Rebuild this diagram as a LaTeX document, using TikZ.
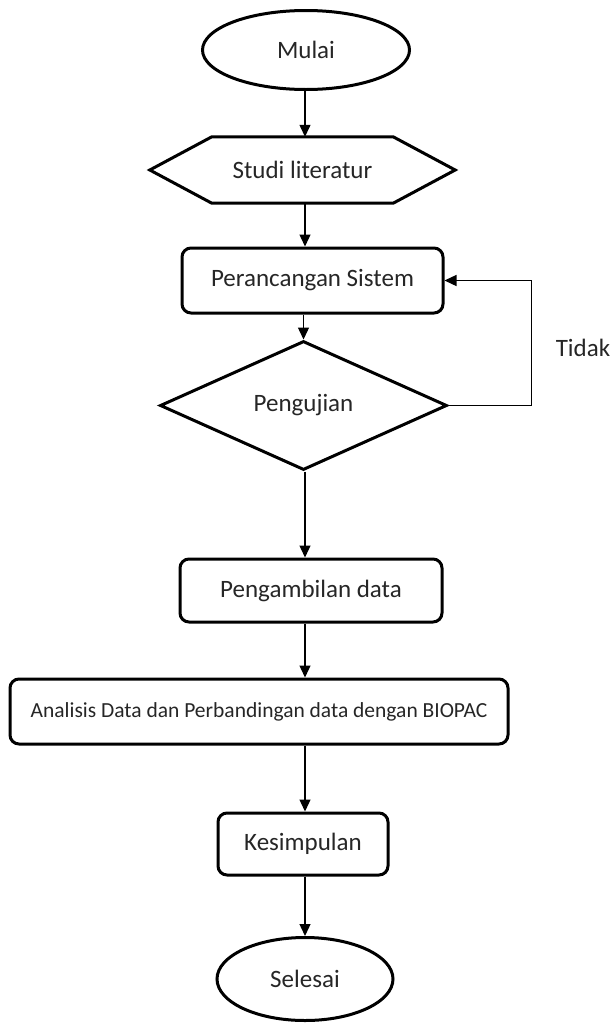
\documentclass[tikz,border=0pt]{standalone}
\usepackage{fontspec}
\setmainfont{Carlito}
\usetikzlibrary{shapes.geometric,arrows.meta}
\begin{document}
\begin{tikzpicture}[x=1pt,y=-1pt,
  every node/.style={font=\fontsize{25}{29}\selectfont, text=black!85},
  shapeline/.style={draw=black, line width=3pt},
  term/.style={shapeline, ellipse, inner sep=0pt},
  proc/.style={shapeline, rectangle, rounded corners=9pt, inner sep=0pt},
  decide/.style={shapeline, diamond, inner sep=0pt},
  conn/.style={draw=black, line width=1.3pt},
  arr/.style={conn, -{Triangle[length=12pt,width=11pt]}}]
\useasboundingbox (0,0) rectangle (614,1023);
\coordinate (col) at (305,0);
\node[term, minimum width=207pt, minimum height=79pt] (mulai) at (306,50) {Mulai};
\node[inner sep=0pt, minimum width=305pt, minimum height=66pt] (lit) at (302.5,170) {Studi literatur};
\draw[shapeline, line join=miter] (lit.west) -- ([xshift=62pt]lit.north west) -- ([xshift=-62pt]lit.north east) -- (lit.east) -- ([xshift=-62pt]lit.south east) -- ([xshift=62pt]lit.south west) -- cycle;
\node[proc, minimum width=261pt, minimum height=65pt] (per) at (312.5,280.5) {Perancangan Sistem};
\node[decide, minimum width=287pt, minimum height=129pt] (uji) at (303.5,405.5) {Pengujian};
\node[proc, minimum width=262pt, minimum height=63pt] (amb) at (311,590.5) {Pengambilan data};
\node[proc, minimum width=498pt, minimum height=65pt, font=\fontsize{21.5}{25}\selectfont] (ana) at (259,711.5) {Analisis Data dan Perbandingan data dengan BIOPAC};
\node[proc, minimum width=170pt, minimum height=62pt] (kes) at (303,844) {Kesimpulan};
\node[term, minimum width=176pt, minimum height=83pt] (sel) at (305,979) {Selesai};
\node (tidak) at (583,348) {Tidak};
\draw[arr] (col |- mulai.south) -- (col |- lit.north);
\draw[arr] (col |- lit.south) -- (col |- per.north);
\draw[arr] (uji.north |- per.south) -- (uji.north);
\draw[arr] (col |- uji.south) -- (col |- amb.north);
\draw[arr] (col |- amb.south) -- (col |- ana.north);
\draw[arr] (col |- ana.south) -- (col |- kes.north);
\draw[arr] (col |- kes.south) -- (col |- sel.north);
\draw[arr] (uji.east) -- ++(83,0) |- (per.east);
\end{tikzpicture}
\end{document}
